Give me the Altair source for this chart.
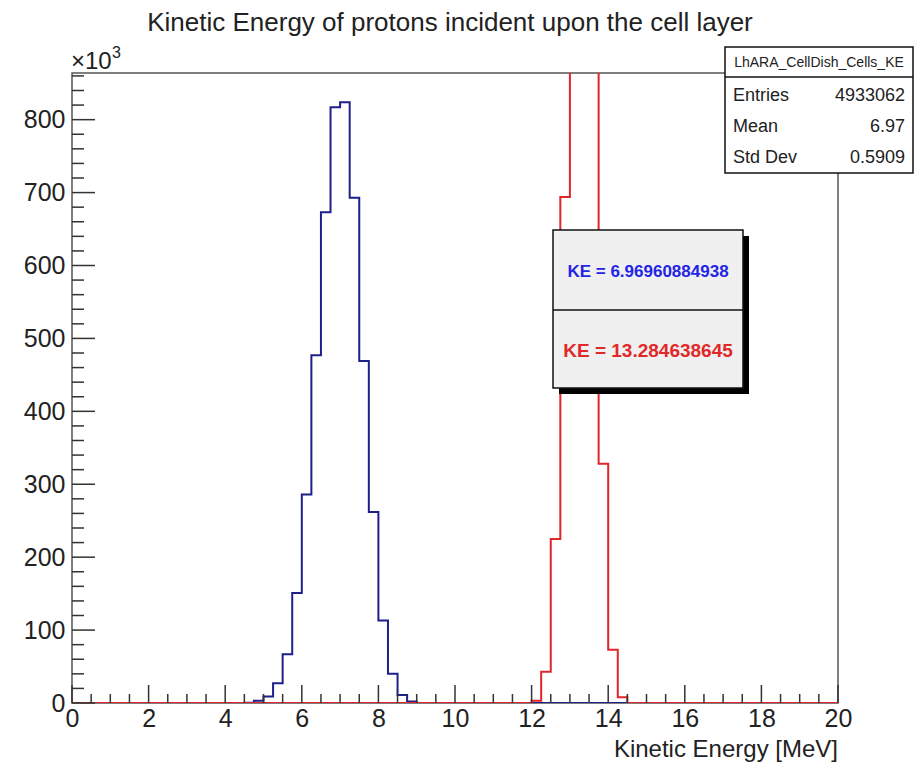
import altair as alt
import pandas as pd

# ---------------- data (counts in thousands, bins of 0.25 MeV) ----------------
bin_width = 0.25
n_bins = 80
blue_first_bin = 4.5
blue_counts = [0.5, 3, 9, 27, 67, 151, 286, 477, 673, 817, 824, 693, 469, 262, 113, 40, 11, 2]
red_first_bin = 12.0
red_counts = [3, 43, 225, 694, 1300, 1380, 900, 328, 73, 8]

x_tick_labels = [0, 2, 4, 6, 8, 10, 12, 14, 16, 18, 20]
x_minor_ticks = [0.5, 1, 1.5, 2.5, 3, 3.5, 4.5, 5, 5.5, 6.5, 7, 7.5, 8.5, 9, 9.5,
                 10.5, 11, 11.5, 12.5, 13, 13.5, 14.5, 15, 15.5, 16.5, 17, 17.5,
                 18.5, 19, 19.5]
y_tick_labels = [0, 100, 200, 300, 400, 500, 600, 700, 800]
y_minor_ticks = [20, 40, 60, 80, 120, 140, 160, 180, 220, 240, 260, 280, 320, 340,
                 360, 380, 420, 440, 460, 480, 520, 540, 560, 580, 620, 640, 660,
                 680, 720, 740, 760, 780, 820, 840, 860]
y_max = 864

title_text = "Kinetic Energy of protons incident upon the cell layer"
x_title = "Kinetic Energy [MeV]"
y_multiplier = "×10"
y_exponent = "3"
stats_name = "LhARA_CellDish_Cells_KE"
stats_labels = ["Entries", "Mean", "Std Dev"]
stats_values = ["4933062", "6.97", "0.5909"]
legend_texts = ["KE = 6.96960884938", "KE = 13.284638645"]

# ---------------- layout constants ----------------
W, H = 766, 630
FONT = "Liberation Sans"


def step_table(first_bin, counts, name):
    start = int(round(first_bin / bin_width))
    vals = [0.0] * n_bins
    for i, c in enumerate(counts):
        vals[start + i] = c
    rows = [{"E": k * bin_width, "N": vals[k], "series": name} for k in range(n_bins)]
    rows.append({"E": n_bins * bin_width, "N": 0.0, "series": name})
    return pd.DataFrame(rows)


blue_df = step_table(blue_first_bin, blue_counts, "cells")
red_df = step_table(red_first_bin, red_counts, "incident")

xscale = alt.Scale(domain=[0, 20], nice=False, zero=False)
yscale = alt.Scale(domain=[0, y_max], nice=False)

x_axis = alt.Axis(values=x_tick_labels, ticks=False, domain=False, grid=False,
                  labelFont=FONT, labelFontSize=25, labelColor="#222",
                  labelPadding=3, labelFlush=False, format="d", title=None)
y_axis = alt.Axis(values=y_tick_labels, ticks=False, domain=False, grid=False,
                  labelFont=FONT, labelFontSize=25, labelColor="#222",
                  labelPadding=7, labelFlush=False, format="d", title=None)

blue = alt.Chart(blue_df).mark_line(
    interpolate="step-after", color="#1f1f8a", strokeWidth=2, clip=True
).encode(
    x=alt.X("E:Q", scale=xscale, axis=x_axis),
    y=alt.Y("N:Q", scale=yscale, axis=y_axis),
)

red = alt.Chart(red_df).mark_line(
    interpolate="step-after", color="#e0262b", strokeWidth=2, clip=True
).encode(
    x=alt.X("E:Q", scale=xscale, axis=x_axis),
    y=alt.Y("N:Q", scale=yscale, axis=y_axis),
)

# inward ticks (ROOT style)
tick_color = "#333"
xmaj = alt.Chart(pd.DataFrame({"E": x_tick_labels})).mark_rule(color=tick_color, strokeWidth=1.5).encode(
    x=alt.X("E:Q", scale=xscale, axis=x_axis), y=alt.value(H), y2=alt.value(H - 18))
xmin = alt.Chart(pd.DataFrame({"E": x_minor_ticks})).mark_rule(color=tick_color, strokeWidth=1.5).encode(
    x=alt.X("E:Q", scale=xscale, axis=x_axis), y=alt.value(H), y2=alt.value(H - 9))
ymaj = alt.Chart(pd.DataFrame({"N": y_tick_labels})).mark_rule(color=tick_color, strokeWidth=1.5).encode(
    y=alt.Y("N:Q", scale=yscale, axis=y_axis), x=alt.value(0), x2=alt.value(23))
ymin = alt.Chart(pd.DataFrame({"N": y_minor_ticks})).mark_rule(color=tick_color, strokeWidth=1.5).encode(
    y=alt.Y("N:Q", scale=yscale, axis=y_axis), x=alt.value(0), x2=alt.value(12))

one = pd.DataFrame({"k": [0]})


def text(t, x, y, size, color="#222", align="left", weight="normal", baseline="alphabetic"):
    return alt.Chart(one).mark_text(
        font=FONT, fontSize=size, color=color, align=align, fontWeight=weight, baseline=baseline
    ).encode(x=alt.value(x), y=alt.value(y), text=alt.value(t))


def box(x1, x2, y1, y2, fill, stroke=None, sw=1.5):
    kw = dict(fill=fill)
    if stroke is not None:
        kw.update(stroke=stroke, strokeWidth=sw)
    return alt.Chart(one).mark_rect(**kw).encode(
        x=alt.value(x1), x2=alt.value(x2), y=alt.value(y1), y2=alt.value(y2))


def hline(x1, x2, y, color="#111", sw=1.5):
    return alt.Chart(one).mark_rule(color=color, strokeWidth=sw).encode(
        x=alt.value(x1), x2=alt.value(x2), y=alt.value(y))


title = text(title_text, 378, -42, 26, align="center")
xtitle = text(x_title, W, 684, 24, align="right")
ymult = text(y_multiplier, -1, -4, 24)
yexp = text(y_exponent, 40, -15, 16)

# stats box
sx1, sx2, sy1, sy2 = 653, 841, -26, 100
stats = [
    box(sx1, sx2, sy1, sy2, "white", "#111"),
    hline(sx1, sx2, 4),
    text(stats_name, (sx1 + sx2) / 2, -6, 14, align="center"),
]
for i, (lab, val) in enumerate(zip(stats_labels, stats_values)):
    yy = 28 + 31 * i
    stats.append(text(lab, sx1 + 8, yy, 18))
    stats.append(text(val, sx2 - 8, yy, 18, align="right"))

# KE legend box with shadow
lx1, lx2, ly1, ly2 = 481, 671, 157, 315
legend = [
    box(lx1 + 6, lx2 + 6, ly1 + 6, ly2 + 6, "#000"),
    box(lx1, lx2, ly1, ly2, "#f0f0f0", "#111"),
    hline(lx1, lx2, 237),
    text(legend_texts[0], (lx1 + lx2) / 2, 204, 17, color="#2424e6", align="center", weight="bold"),
    text(legend_texts[1], (lx1 + lx2) / 2, 284, 19, color="#e02a2a", align="center", weight="bold"),
]

chart = alt.layer(
    blue, red, xmaj, xmin, ymaj, ymin, title, xtitle, ymult, yexp, *stats, *legend
).properties(
    width=W, height=H,
    padding={"left": 72, "top": 73, "right": 84, "bottom": 59},
    autosize=alt.AutoSizeParams(type="none"),
    background="white",
).configure_view(
    stroke="#555", strokeWidth=1.5
)

chart.save("out.html", embed_options={"renderer": "svg", "actions": False})
